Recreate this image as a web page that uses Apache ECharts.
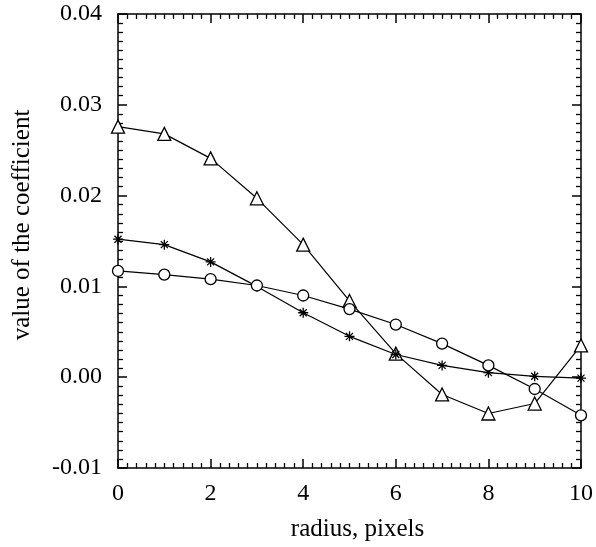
<!DOCTYPE html>
<html>
<head>
<meta charset="utf-8">
<script src="https://cdn.jsdelivr.net/npm/echarts@6/dist/echarts.min.js"></script>
<style>
  html, body { margin: 0; padding: 0; background: #fff; }
  #chart { width: 596px; height: 547px; }
</style>
</head>
<body>
<div id="chart"></div>
<script>
// radius in pixels
const radius = [0, 1, 2, 3, 4, 5, 6, 7, 8, 9, 10]
// triangle curve
const triangleVals = [0.0276, 0.0268, 0.0241, 0.0197, 0.0146, 0.0084, 0.0026, -0.0019, -0.0040, -0.0029, 0.0035]
// star curve
const starVals = [0.0152, 0.0146, 0.0127, 0.0100, 0.0071, 0.0045, 0.0025, 0.0013, 0.0005, 0.0001, -0.0001]
// circle curve
const circleVals = [0.0117, 0.0113, 0.0108, 0.0101, 0.0090, 0.0075, 0.0058, 0.0037, 0.0013, -0.0013, -0.0042]

const font = '"Liberation Serif", "Times New Roman", serif'
const starPath = 'path://M0,-10L0,10M-10,0L10,0M-7,-7L7,7M-7,7L7,-7'

function pairs(vals) {
  return radius.map((r, i) => [r, vals[i]])
}

const tickCommon = {
  axisLine: { onZero: false, lineStyle: { color: '#000', width: 1.5 } },
  axisTick: { inside: true, length: 9, lineStyle: { color: '#000', width: 1.5 } },
  minorTick: { show: true, splitNumber: 10, length: 5, lineStyle: { color: '#000', width: 1.3 } },
  splitLine: { show: false }
}

const lineSeries = (vals, symbol, size) => ({
  type: 'line',
  data: pairs(vals),
  symbol: symbol,
  symbolSize: size,
  color: '#000',
  lineStyle: { color: '#000', width: 1.2 },
  itemStyle: { color: '#fff', borderColor: '#000', borderWidth: 1.3 },
  animation: false,
  z: 3
})

const chart = echarts.init(document.getElementById('chart'))
chart.setOption({
  backgroundColor: '#fff',
  grid: { left: 118, right: 11, top: 14, bottom: 76 },
  xAxis: [
    {
      type: 'value', min: 0, max: 10, interval: 2, position: 'bottom',
      name: 'radius, pixels', nameLocation: 'middle', nameGap: 49,
      nameTextStyle: { fontFamily: font, fontSize: 25, color: '#000', padding: [0, 0, 0, 16] },
      axisLabel: { fontFamily: font, fontSize: 24, color: '#000', margin: 14 },
      ...tickCommon
    },
    {
      type: 'value', min: 0, max: 10, interval: 2, position: 'top',
      axisLabel: { show: false },
      ...tickCommon
    }
  ],
  yAxis: [
    {
      type: 'value', min: -0.01, max: 0.04, interval: 0.01, position: 'left',
      axisLabel: {
        fontFamily: font, fontSize: 24, color: '#000', margin: 16,
        formatter: v => v.toFixed(2)
      },
      ...tickCommon
    },
    {
      type: 'value', min: -0.01, max: 0.04, interval: 0.01, position: 'right',
      axisLabel: { show: false },
      ...tickCommon
    }
  ],
  graphic: [
    {
      type: 'text',
      x: 22, y: 225,
      rotation: Math.PI / 2,
      style: {
        text: 'value of the coefficient',
        font: '25px "Liberation Serif"',
        fill: '#000',
        align: 'center',
        verticalAlign: 'middle'
      }
    }
  ],
  series: [
    lineSeries(triangleVals, 'triangle', 13),
    lineSeries(starVals, starPath, 10),
    lineSeries(circleVals, 'circle', 11)
  ]
})
</script>
</body>
</html>
